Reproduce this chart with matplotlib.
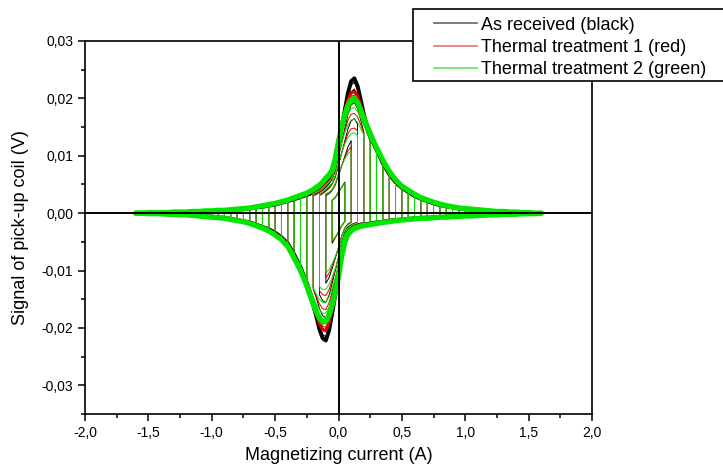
import matplotlib.pyplot as plt
import numpy as np
from matplotlib.ticker import MultipleLocator, FuncFormatter
from matplotlib.lines import Line2D
from matplotlib.patches import Rectangle

plt.rcParams['font.family'] = ['Liberation Sans', 'DejaVu Sans']

# magnetizing current grid (A): coarse in the tails, finer around zero
current = [-1.60, -1.55, -1.50, -1.45, -1.40, -1.35, -1.30, -1.25, -1.20, -1.15, -1.10, -1.05, -1.00,
           -0.95, -0.90, -0.85, -0.80, -0.75, -0.70, -0.65, -0.60, -0.55, -0.50, -0.45, -0.40, -0.35,
           -0.300, -0.275, -0.250, -0.225, -0.200, -0.175, -0.150, -0.125, -0.100, -0.075, -0.050, -0.025,
           0.000, 0.025, 0.050, 0.075, 0.100, 0.125, 0.150, 0.175, 0.200, 0.225, 0.250, 0.275, 0.300,
           0.35, 0.40, 0.45, 0.50, 0.55, 0.60, 0.65, 0.70, 0.75, 0.80, 0.85, 0.90, 0.95,
           1.00, 1.05, 1.10, 1.15, 1.20, 1.25, 1.30, 1.35, 1.40, 1.45, 1.50, 1.55, 1.60]

# pick-up signal (V) on the increasing-current (up) and decreasing-current (lo) branch
green_up = [0.0000, 0.0000, 0.0001, 0.0001, 0.0001, 0.0001, 0.0002, 0.0002, 0.0002, 0.0003, 0.0003, 0.0004, 0.0004,
            0.0005, 0.0005, 0.0006, 0.0007, 0.0008, 0.0009, 0.0011, 0.0013, 0.0015, 0.0017, 0.0020, 0.0023, 0.0027,
            0.0031, 0.0033, 0.0035, 0.0038, 0.0041, 0.0045, 0.0049, 0.0054, 0.0061, 0.0067, 0.0075, 0.0095,
            0.0125, 0.0150, 0.0172, 0.0188, 0.0198, 0.0200, 0.0193, 0.0180, 0.0166, 0.0152, 0.0139, 0.0126, 0.0114,
            0.0092, 0.0073, 0.0058, 0.0047, 0.0040, 0.0033, 0.0027, 0.0023, 0.0019, 0.0016, 0.0013, 0.0011, 0.0009,
            0.0008, 0.0007, 0.0006, 0.0005, 0.0004, 0.0003, 0.0003, 0.0002, 0.0002, 0.0001, 0.0001, 0.0000, 0.0000]
green_lo = [0.0000, 0.0000, -0.0001, -0.0001, -0.0001, -0.0002, -0.0002, -0.0003, -0.0003, -0.0004, -0.0005, -0.0006, -0.0007,
            -0.0008, -0.0009, -0.0011, -0.0013, -0.0015, -0.0018, -0.0022, -0.0026, -0.0031, -0.0038, -0.0046, -0.0058, -0.0078,
            -0.0100, -0.0113, -0.0127, -0.0143, -0.0158, -0.0172, -0.0183, -0.0190, -0.0189, -0.0178, -0.0160, -0.0137,
            -0.0110, -0.0075, -0.0050, -0.0037, -0.0031, -0.0027, -0.0025, -0.0023, -0.0022, -0.0021, -0.0020, -0.0019, -0.0018,
            -0.0016, -0.0015, -0.0013, -0.0012, -0.0011, -0.0010, -0.0009, -0.0009, -0.0008, -0.0007, -0.0007, -0.0006, -0.0006,
            -0.0005, -0.0005, -0.0004, -0.0004, -0.0003, -0.0003, -0.0002, -0.0002, -0.0002, -0.0001, -0.0001, -0.0001, 0.0000]

black_up = [0.0000, 0.0000, 0.0000, 0.0001, 0.0001, 0.0001, 0.0001, 0.0002, 0.0002, 0.0002, 0.0003, 0.0003, 0.0004,
            0.0004, 0.0005, 0.0005, 0.0006, 0.0007, 0.0008, 0.0010, 0.0011, 0.0013, 0.0015, 0.0018, 0.0021, 0.0024,
            0.0028, 0.0030, 0.0032, 0.0034, 0.0037, 0.0040, 0.0044, 0.0049, 0.0055, 0.0062, 0.0072, 0.0090,
            0.0120, 0.0150, 0.0180, 0.0210, 0.0230, 0.0235, 0.0222, 0.0198, 0.0172, 0.0152, 0.0136, 0.0122, 0.0110,
            0.0087, 0.0068, 0.0054, 0.0044, 0.0037, 0.0030, 0.0025, 0.0021, 0.0017, 0.0014, 0.0012, 0.0010, 0.0008,
            0.0007, 0.0006, 0.0005, 0.0004, 0.0003, 0.0003, 0.0002, 0.0002, 0.0001, 0.0001, 0.0001, 0.0000, 0.0000]
black_lo = [0.0000, 0.0000, 0.0000, -0.0001, -0.0001, -0.0001, -0.0002, -0.0002, -0.0003, -0.0003, -0.0004, -0.0005, -0.0006,
            -0.0007, -0.0008, -0.0010, -0.0012, -0.0014, -0.0016, -0.0020, -0.0024, -0.0028, -0.0034, -0.0042, -0.0053, -0.0072,
            -0.0094, -0.0108, -0.0124, -0.0141, -0.0160, -0.0180, -0.0203, -0.0218, -0.0222, -0.0205, -0.0175, -0.0142,
            -0.0110, -0.0072, -0.0047, -0.0034, -0.0029, -0.0025, -0.0023, -0.0021, -0.0020, -0.0019, -0.0018, -0.0017, -0.0016,
            -0.0015, -0.0013, -0.0012, -0.0011, -0.0010, -0.0009, -0.0008, -0.0008, -0.0007, -0.0007, -0.0006, -0.0005, -0.0005,
            -0.0005, -0.0004, -0.0004, -0.0003, -0.0003, -0.0002, -0.0002, -0.0002, -0.0001, -0.0001, -0.0001, 0.0000, 0.0000]

red_up = [0.0000, 0.0000, 0.0001, 0.0001, 0.0001, 0.0001, 0.0001, 0.0002, 0.0002, 0.0003, 0.0003, 0.0003, 0.0004,
          0.0004, 0.0005, 0.0006, 0.0006, 0.0007, 0.0009, 0.0010, 0.0012, 0.0014, 0.0016, 0.0019, 0.0022, 0.0025,
          0.0029, 0.0031, 0.0033, 0.0036, 0.0039, 0.0042, 0.0046, 0.0051, 0.0058, 0.0064, 0.0073, 0.0092,
          0.0122, 0.0150, 0.0176, 0.0198, 0.0210, 0.0212, 0.0205, 0.0188, 0.0169, 0.0152, 0.0138, 0.0124, 0.0112,
          0.0090, 0.0070, 0.0056, 0.0046, 0.0038, 0.0032, 0.0026, 0.0022, 0.0018, 0.0015, 0.0012, 0.0010, 0.0009,
          0.0007, 0.0006, 0.0005, 0.0004, 0.0004, 0.0003, 0.0002, 0.0002, 0.0001, 0.0001, 0.0001, 0.0000, 0.0000]
red_lo = [0.0000, 0.0000, -0.0001, -0.0001, -0.0001, -0.0001, -0.0002, -0.0002, -0.0003, -0.0003, -0.0004, -0.0005, -0.0006,
          -0.0007, -0.0009, -0.0010, -0.0012, -0.0014, -0.0017, -0.0021, -0.0025, -0.0030, -0.0036, -0.0044, -0.0055, -0.0075,
          -0.0097, -0.0110, -0.0125, -0.0142, -0.0159, -0.0176, -0.0193, -0.0203, -0.0205, -0.0191, -0.0167, -0.0140,
          -0.0110, -0.0074, -0.0049, -0.0036, -0.0030, -0.0026, -0.0024, -0.0022, -0.0021, -0.0020, -0.0019, -0.0018, -0.0017,
          -0.0015, -0.0014, -0.0012, -0.0011, -0.0010, -0.0010, -0.0009, -0.0008, -0.0008, -0.0007, -0.0006, -0.0006, -0.0005,
          -0.0005, -0.0004, -0.0004, -0.0003, -0.0003, -0.0003, -0.0002, -0.0002, -0.0001, -0.0001, -0.0001, 0.0000, 0.0000]

# amplitudes of the measured loops (A)
amplitudes = [0.05, 0.10, 0.15, 0.20, 0.25, 0.30, 0.35, 0.40, 0.45, 0.50, 0.55, 0.60, 0.65, 0.70, 0.75, 0.80,
              0.85, 0.90, 0.95, 1.00, 1.05, 1.10, 1.15, 1.20, 1.25, 1.30, 1.35, 1.40, 1.45, 1.50, 1.55, 1.60]
# the smallest loops stay lower than the big ones
small_loop_height = [0.30, 0.55, 0.70, 0.82, 0.92, 0.97]

series = [
    ("As received (black)", black_up, black_lo, "black", 2.8),
    ("Thermal treatment 1 (red)", red_up, red_lo, "#dd0000", 2.3),
    ("Thermal treatment 2 (green)", green_up, green_lo, "#00e600", 3.8),
]

fig = plt.figure(figsize=(7.23, 4.70), dpi=100)
ax = fig.add_axes([85 / 723, 1 - 414 / 470, 507 / 723, 373 / 470])

x = np.array(current)
for label, up, lo, col, lw_env in series:
    up = np.array(up)
    lo = np.array(lo)
    # each loop: up the rising branch to +A, drop, back along the falling branch to -A
    for i, A in enumerate(amplitudes):
        h = small_loop_height[i] if i < len(small_loop_height) else 1.0
        m = np.abs(x) <= A + 1e-9
        xs = x[m]
        lx = np.concatenate([xs, xs[::-1], xs[:1]])
        ly = np.concatenate([up[m], lo[m][::-1], up[m][:1]]) * h
        ax.plot(lx, ly, color=col, lw=0.7)
    ax.plot(x, up, color=col, lw=lw_env, solid_capstyle='round', solid_joinstyle='round')
    ax.plot(x, lo, color=col, lw=lw_env, solid_capstyle='round', solid_joinstyle='round')

ax.axhline(0, color='black', lw=1.4, zorder=5)
ax.axvline(0, color='black', lw=1.4, zorder=5)

ax.set_xlim(-2.0, 2.0)
ax.set_ylim(-0.035, 0.03)
ax.xaxis.set_major_locator(MultipleLocator(0.5))
ax.xaxis.set_minor_locator(MultipleLocator(0.25))
ax.yaxis.set_major_locator(MultipleLocator(0.01))
ax.yaxis.set_minor_locator(MultipleLocator(0.005))


def comma(dec):
    def f(v, pos):
        s = f"{v:.{dec}f}"
        if s.startswith('-') and float(s) == 0:
            s = s[1:]
        return s.replace('.', ',')
    return FuncFormatter(f)


ax.xaxis.set_major_formatter(comma(1))
ax.yaxis.set_major_formatter(comma(2))
ax.tick_params(which='major', direction='out', length=5, width=1.1, labelsize=10, colors='black')
ax.tick_params(which='minor', direction='out', length=3, width=1.1)
for s in ax.spines.values():
    s.set_linewidth(1.2)

ax.set_xlabel('Magnetizing current (A)', fontsize=13, labelpad=5)
ax.set_ylabel('Signal of pick-up coil (V)', fontsize=13, labelpad=9)

# legend box over the top-right corner
fig.patches.append(Rectangle((413 / 723, 1 - 81 / 470), 320 / 723, 72 / 470,
                             transform=fig.transFigure, facecolor='white',
                             edgecolor='black', lw=1.2, zorder=10))
handles = [Line2D([], [], color='#666666', lw=1.2),
           Line2D([], [], color='#f07070', lw=1.2),
           Line2D([], [], color='#60e060', lw=1.2)]
leg = fig.legend(handles, [s[0] for s in series], loc='upper left',
                 bbox_to_anchor=(430 / 723, 1 - 13 / 470), frameon=False,
                 fontsize=13, handlelength=2.4, handletextpad=0.25,
                 labelspacing=0.3, borderpad=0.2, borderaxespad=0)
leg.set_zorder(11)

fig.savefig('out.png', dpi=100)
